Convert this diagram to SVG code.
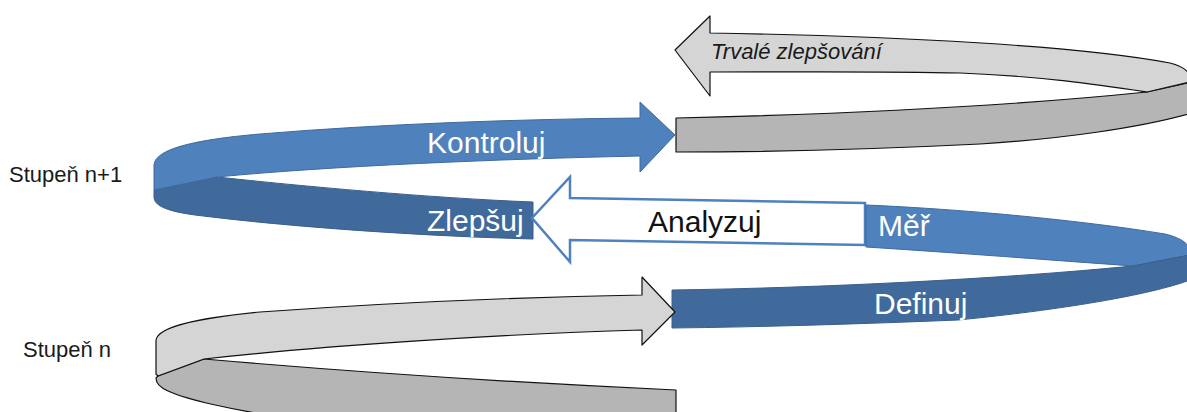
<svg xmlns="http://www.w3.org/2000/svg" width="1187" height="412" viewBox="0 0 1187 412">
  <style>
    .gl { fill: #D5D5D5; stroke: #111; stroke-width: 1.2; stroke-linejoin: round; }
    .gd { fill: #B5B5B5; stroke: #111; stroke-width: 1.2; stroke-linejoin: round; }
    .bl { fill: #4F81BD; stroke: #3F6B9E; stroke-width: 1; stroke-linejoin: round; }
    .bd { fill: #416A9C; stroke: #385E8C; stroke-width: 1; stroke-linejoin: round; }
    .wa { fill: #FFFFFF; stroke: #4F81BD; stroke-width: 2.5; stroke-linejoin: miter; }
    .lbw { font-family: "Liberation Sans", Arial, sans-serif; font-size: 30px; fill: #FFFFFF; }
    .lbk { font-family: "Liberation Sans", Arial, sans-serif; font-size: 30px; fill: #111111; }
    .side { font-family: "Liberation Sans", Arial, sans-serif; font-size: 22px; fill: #1A1A1A; }
    .it { font-family: "Liberation Sans", Arial, sans-serif; font-size: 22px; font-style: italic; fill: #1A1A1A; }
  </style>
  <rect width="1187" height="412" fill="#FFFFFF"/>

  <g id="trvale-zlepsovani">
    <path class="gd" d="M 676,118 C 850,114 1010,106 1147,92 L 1192,82 L 1192,113 C 1140,128 1060,139 980,144 C 860,150 760,152 676,152 Z"/>
    <path class="gl" d="M 710,33 C 900,36 1080,46 1170,63 C 1186,67 1192,74 1190,82 L 1147,92 C 1100,85 1040,76 960,73 C 880,71 790,72 710,72 L 710,96 L 675,50 L 710,16 Z"/>
    <text class="it" x="711" y="59">Trvalé zlepšování</text>
  </g>

  <g id="kontroluj-zlepsuj">
    <path class="bd" d="M 217,177 C 300,186 430,198 533,202 L 533,239 C 420,236 290,227 195,215 C 165,211 154,205 154,197 L 154,190 Z"/>
    <path class="bl" d="M 154,190 L 154,165 C 155,150 190,140 260,134 C 380,124 520,119 640,118 L 640,102 L 675,135 L 640,172 L 640,156 C 500,159 330,166 217,177 Z"/>
    <text class="lbw" x="427" y="153" font-size="31">Kontroluj</text>
    <text class="lbw" x="427" y="231" font-size="30">Zlepšuj</text>
  </g>

  <g id="analyzuj">
    <path class="wa" d="M 865,203 L 570,198 L 570,177 L 532,218 L 570,262 L 570,240 L 865,245 Z"/>
    <text class="lbk" x="648" y="232">Analyzuj</text>
  </g>

  <g id="mer-definuj">
    <path class="bl" d="M 866,205 C 960,209 1080,220 1165,234 C 1182,238 1192,245 1190,255 L 1133,266 C 1050,260 960,253 866,247 Z"/>
    <path class="bd" d="M 672,290 C 820,288 1000,279 1133,266 L 1190,255 L 1190,280 C 1150,295 1060,310 958,320 C 860,324 760,327 672,328 Z"/>
    <text class="lbw" x="878" y="236">Měř</text>
    <text class="lbw" x="874" y="314">Definuj</text>
  </g>

  <g id="stupen-n-loop">
    <path class="gd" d="M 204,359 C 330,370 500,382 676,390 L 676,420 L 300,420 C 230,410 185,399 168,391 C 159,387 156,383 156,378 L 158,376 Z"/>
    <path class="gl" d="M 158,376 L 156,374 L 156,340 C 158,326 200,318 260,312 C 400,302 520,297 642,295 L 642,277 L 675,312 L 642,345 L 642,330 C 500,334 320,346 204,359 Z"/>
  </g>

  <g id="stupen-n1-label">
    <text class="side" x="9" y="182">Stupeň n+1</text>
  </g>
  <g id="stupen-n-label">
    <text class="side" x="23" y="357">Stupeň n</text>
  </g>

  <g id="connectors"></g>
</svg>
